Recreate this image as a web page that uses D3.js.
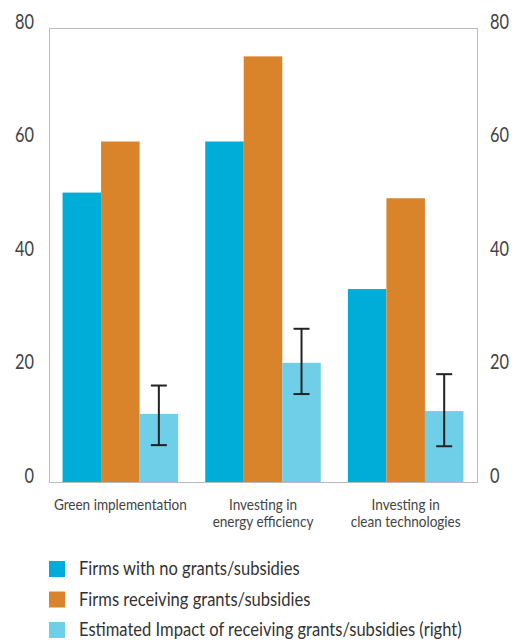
<!DOCTYPE html>
<html><head><meta charset="utf-8">
<script src="https://cdn.jsdelivr.net/npm/d3@7"></script>
<style>
html,body{margin:0;padding:0;background:#fff;}
text{font-family:Lato,"Open Sans","Liberation Sans",sans-serif;}
</style>
</head><body>
<script>
const categories = [["Green implementation"], ["Investing in", "energy efficiency"], ["Investing in", "clean technologies"]];
const noGrants = [51, 60, 34];
const withGrants = [60, 75, 50];
const impact = [12, 21, 12.5];
const impactLow = [6.5, 15.5, 6.3];
const impactHigh = [17, 27, 19];
const tickValues = [0, 20, 40, 60, 80];
const seriesNames = ["Firms with no grants/subsidies", "Firms receiving grants/subsidies", "Estimated Impact of receiving grants/subsidies (right)"];
const colors = ["#00ADD8", "#D9832A", "#6FCEE8"];

const W = 512, H = 644;
const mLeft = 49, mRight = 477, mTop = 28, mBottom = 482;
const svg = d3.select("body").append("svg").attr("width", W).attr("height", H);

// condense text horizontally (reference uses a condensed face)
function condense(sel, k) {
  sel.each(function () {
    const s = d3.select(this);
    const x = +s.attr("x") || 0;
    const y = +s.attr("y") || 0;
    s.attr("x", x / k).attr("y", y).attr("transform", `scale(${k},1)`);
  });
}
function ratio(str, size, target) {
  const t = svg.append("text").attr("font-size", size).text(str);
  const w = t.node().getComputedTextLength();
  t.remove();
  return target / w;
}

const x0 = d3.scaleBand().domain(d3.range(categories.length)).range([mLeft, mRight]).paddingInner(0.19).paddingOuter(0.095);
const x1 = d3.scaleBand().domain([0, 1, 2]).range([0, x0.bandwidth()]);
const yL = d3.scaleLinear().domain([0, 80]).range([mBottom, mTop]);
const yR = d3.scaleLinear().domain([0, 80]).range([mBottom, mTop]);

// frame
svg.append("rect").attr("x", mLeft + 0.5).attr("y", mTop + 0.5).attr("width", mRight - mLeft).attr("height", mBottom - mTop)
  .attr("fill", "none").attr("stroke", "#777").attr("stroke-width", 1).attr("stroke-dasharray", "1,1");

// axes
const kTick = ratio("80", 22, 19);
const axL = svg.append("g").attr("transform", `translate(${mLeft},0)`)
  .call(d3.axisLeft(yL).tickValues(tickValues).tickSize(0).tickPadding(15));
const axR = svg.append("g").attr("transform", `translate(${mRight},0)`)
  .call(d3.axisRight(yR).tickValues(tickValues).tickSize(0).tickPadding(13));
[axL, axR].forEach(a => {
  a.select(".domain").remove();
  a.selectAll("text").attr("font-size", 22).attr("fill", "#444").attr("dy", "0em")
    .style("font-family", 'Lato,"Open Sans",sans-serif');
  condense(a.selectAll("text"), kTick);
});

const series = [noGrants, withGrants, impact];
const scales = [yL, yL, yR];
series.forEach((vals, s) => {
  svg.append("g").selectAll("rect").data(vals).join("rect")
    .attr("x", (d, i) => x0(i) + x1(s))
    .attr("y", d => scales[s](d))
    .attr("width", x1.bandwidth())
    .attr("height", d => mBottom - scales[s](d))
    .attr("fill", colors[s]);
});

// error bars
const eb = svg.append("g").attr("stroke", "#222").attr("stroke-width", 2).attr("fill", "none");
impact.forEach((d, i) => {
  const cx = x0(i) + x1(2) + x1.bandwidth() / 2;
  eb.append("line").attr("x1", cx).attr("x2", cx).attr("y1", yR(impactHigh[i])).attr("y2", yR(impactLow[i]));
  [impactHigh[i], impactLow[i]].forEach(v => {
    eb.append("line").attr("x1", cx - 8).attr("x2", cx + 8).attr("y1", yR(v)).attr("y2", yR(v));
  });
});

// category labels
const kCat = ratio("Green implementation", 15, 133);
categories.forEach((lines, i) => {
  lines.forEach((l, j) => {
    const t = svg.append("text").attr("x", x0(i) + x0.bandwidth() / 2).attr("y", 510 + j * 17)
      .attr("text-anchor", "middle").attr("font-size", 15).attr("fill", "#444").text(l);
    condense(t, kCat);
  });
});

// legend
const kLeg = ratio(seriesNames[0], 19, 221);
seriesNames.forEach((n, i) => {
  const g = svg.append("g").attr("transform", `translate(49,${561 + i * 30.5})`);
  g.append("rect").attr("width", 16).attr("height", 16).attr("fill", colors[i]);
  const t = g.append("text").attr("x", 30).attr("y", 14).attr("font-size", 19).attr("fill", "#333").text(n);
  condense(t, kLeg);
});
</script>
</body></html>
